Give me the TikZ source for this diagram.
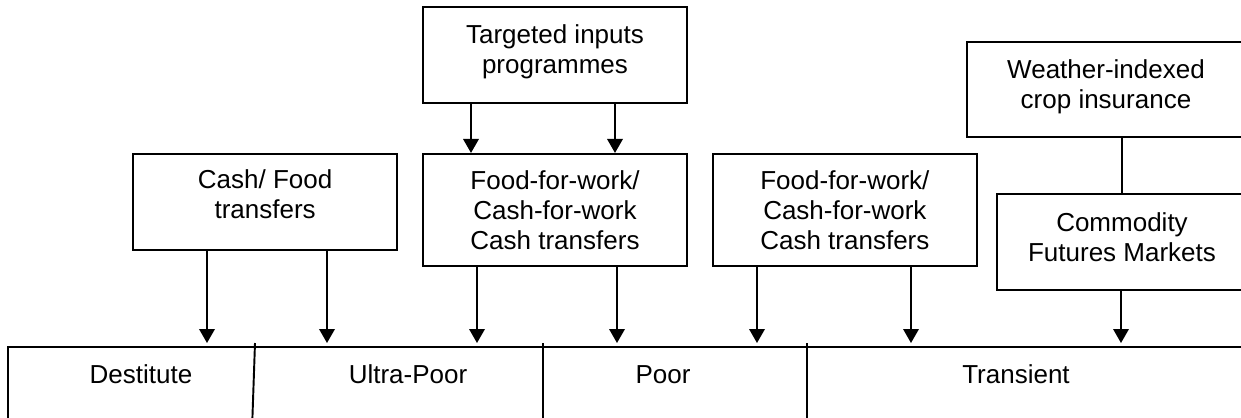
\documentclass[tikz,border=0pt]{standalone}
\usepackage{fontspec}
\setmainfont{Liberation Sans}
\usetikzlibrary{positioning,arrows.meta}

\begin{document}
\begin{tikzpicture}[x=0.02cm, y=-0.02cm, line width=1.1pt, node distance=0.48cm,
  box/.style = {draw, rectangle, align=center, inner sep=0pt, minimum width=5.28cm, minimum height=1.92cm, font=\fontsize{14.8}{17.1}\selectfont},
  twoline/.style = {text depth=#1},
  cell/.style = {anchor=base, font=\fontsize{14.8}{17.1}\selectfont},
  arr/.style = {-{Triangle[width=0.31cm,length=0.28cm]}, shorten >=0.08cm}]
	\useasboundingbox (0,0) rectangle (1241,417);
	\clip (0,0) rectangle (1241,417);
	\node[box, twoline=6.5pt] (targ) at (555,55) {Targeted inputs\\programmes};
	\node[box, minimum height=2.24cm] (ffw1) [below=0.98cm of targ] {Food-for-work/\\Cash-for-work\\Cash transfers};
	\node[box, minimum height=2.24cm] (ffw2) [right=of ffw1] {Food-for-work/\\Cash-for-work\\Cash transfers};
	\node[box, twoline=9pt] (cash) [left=of ffw1.north west, anchor=north east] {Cash/ Food\\transfers};
	\node[box, twoline=6.5pt, minimum width=5.56cm, minimum height=1.9cm] (weather) at (1106,89.5) {Weather-indexed\\crop insurance};
	\node[box, twoline=6pt, minimum width=5cm] (comm) at (1122,242) {Commodity\\Futures Markets};
	% groups along the bottom
	\coordinate (rowtop) at (8,347);
	\node[cell] (dest) at (141,383) {Destitute};
	\node[cell] (ultra) at (408,383) {Ultra-Poor};
	\node[cell] (poor) at (663,383) {Poor};
	\node[cell] (trans) at (1016,383) {Transient};
	\draw (8,430) -- (rowtop) -- (1260,347);
	\draw (255,343) -- (252,430);
	\draw (543,343) -- (543,430);
	\draw (807,343) -- (807,430);
	% connectors
	\draw[arr, shorten >=0pt] (471,0 |- targ.south) -- (471,0 |- ffw1.north);
	\draw[arr, shorten >=0pt] (615,0 |- targ.south) -- (615,0 |- ffw1.north);
	\draw (weather.south -| comm.north) -- (comm.north);
	\foreach \x/\b in {207/cash,327/cash,477/ffw1,617/ffw1,757/ffw2,911/ffw2,1121/comm}
		\draw[arr] (\x,0 |- \b.south) -- (\x,0 |- rowtop);
\end{tikzpicture}
\end{document}
